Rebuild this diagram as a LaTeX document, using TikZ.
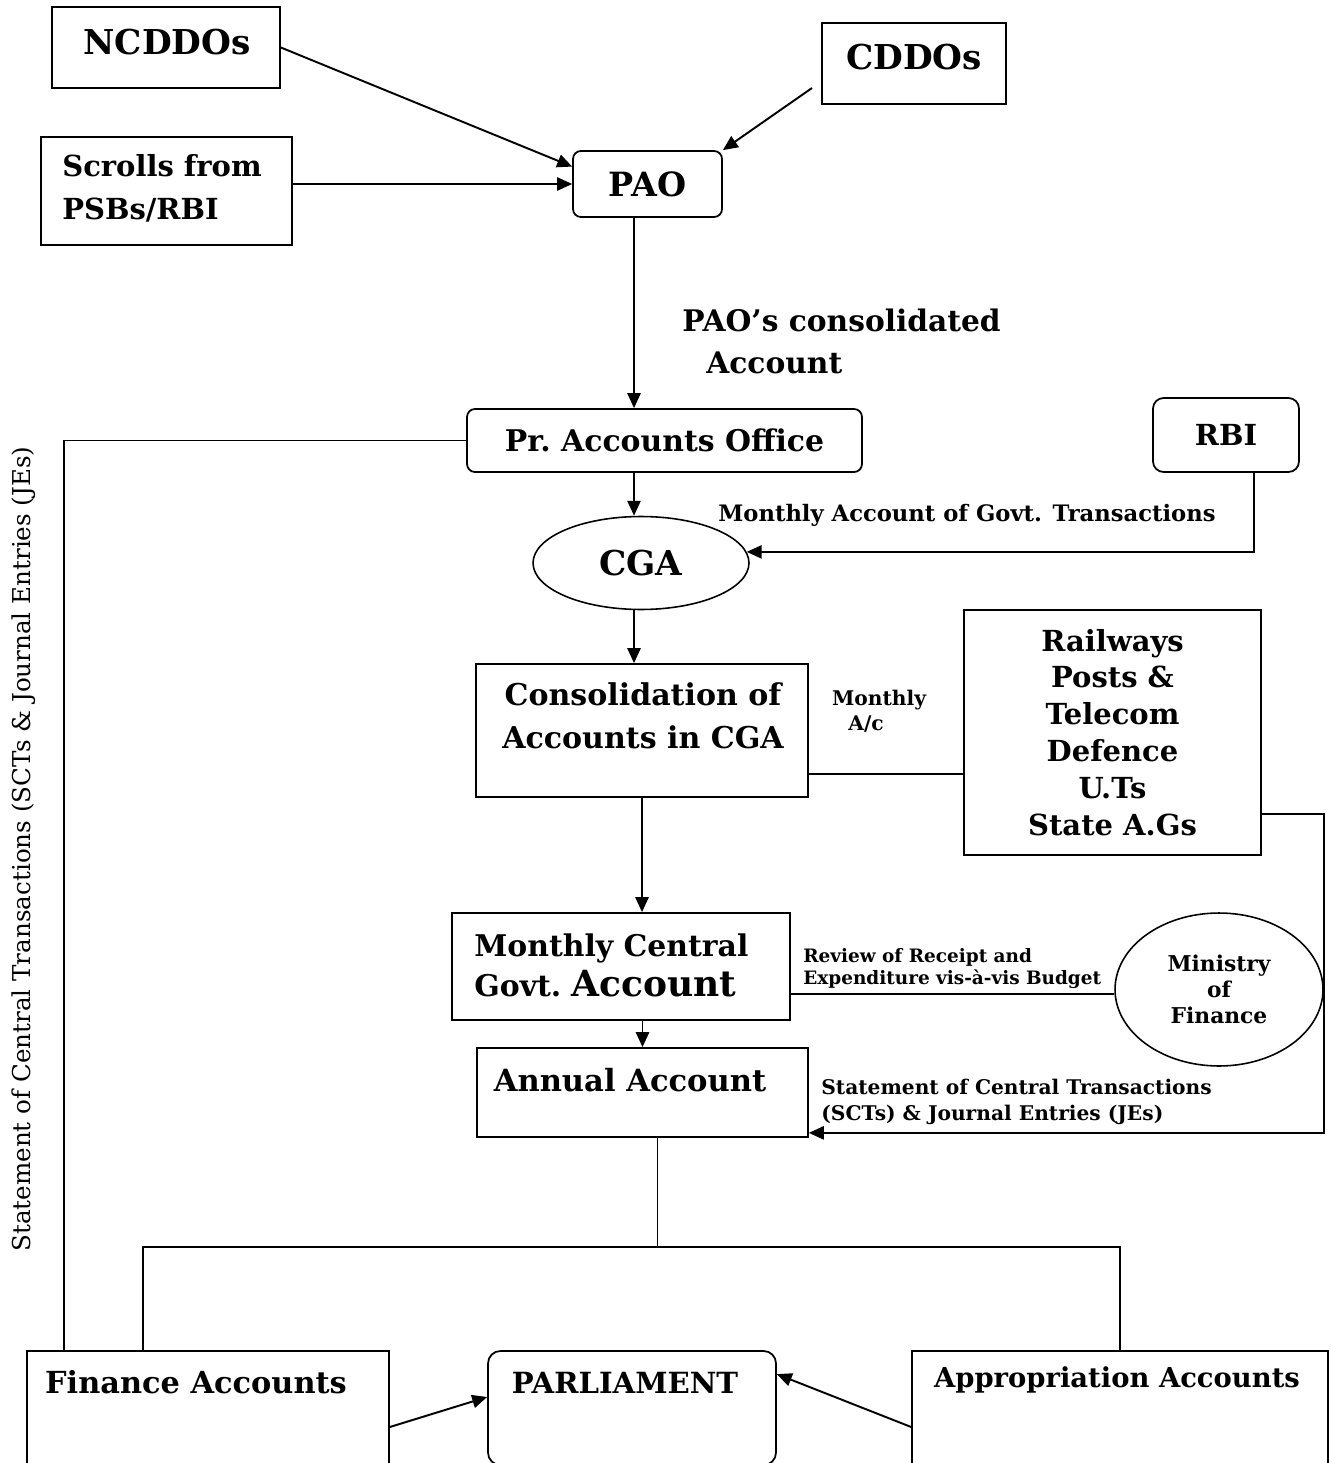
\documentclass[tikz,border=0pt]{standalone}
\usepackage{fontspec}
\setmainfont{DejaVu Serif}
\usetikzlibrary{arrows.meta,calc,shapes.geometric}

\tikzset{
  box/.style={draw, line width=1pt, inner sep=0pt},
  rbox/.style={box, rounded corners=4.5pt},
  oval/.style={ellipse, draw, line width=0.9pt, inner sep=0pt},
  bigtext/.style={inner sep=0pt, font=\bfseries\fontsize{19.5}{23}\selectfont},
  midtext/.style={inner sep=0pt, font=\bfseries\fontsize{16.5}{24.5}\selectfont},
  smalltext/.style={inner sep=0pt, font=\bfseries\fontsize{11.5}{14.8}\selectfont},
  arrowline/.style={line width=1.1pt},
  thinline/.style={line width=0.8pt},
}

\begin{document}
\begin{tikzpicture}[x=0.02cm, y=-0.02cm, >={Triangle[length=8.5pt,width=7.5pt]}]
\useasboundingbox (0,0) rectangle (1330,1463);
\clip (0,0) rectangle (1330,1463);

% sources
\node[box, minimum width=4.56cm, minimum height=1.62cm] (nc) at (166,47.5) {};
\node[bigtext] (nct) at (167,42) {NCDDOs};
\node[box, minimum width=3.68cm, minimum height=1.62cm] (cd) at (914,63.5) {};
\node[bigtext] (cdt) at (914,57) {CDDOs};
\node[box, minimum width=5.02cm, minimum height=2.16cm] (scr) at (166.5,191) {};
\node[midtext, anchor=west, align=left] (scrt) at (62,188) {Scrolls from\\PSBs/RBI};
\node[rbox, minimum width=2.98cm, minimum height=1.32cm, font=\bfseries\fontsize{19}{23}\selectfont] (pao) at (647.5,184) {PAO};

% accounts offices
\node[rbox, minimum width=7.9cm, minimum height=1.26cm, font=\bfseries\fontsize{17}{20}\selectfont] (pr) at (664.5,440.5) {Pr.\ Accounts Office};
\node[rbox, rounded corners=6pt, minimum width=2.92cm, minimum height=1.48cm, font=\bfseries\fontsize{16.5}{20}\selectfont] (rbi) at (1226,435) {RBI};
\node[oval, minimum width=4.32cm, minimum height=1.86cm, font=\bfseries\fontsize{19.5}{23}\selectfont] (cga) at (641,563) {CGA};

% consolidation
\node[box, minimum width=6.64cm, minimum height=2.66cm] (con) at (642,730.5) {};
\node[midtext, align=center, font=\bfseries\fontsize{17.1}{24.5}\selectfont] (cont) at (643,716) {Consolidation of\\Accounts in CGA};
\node[box, minimum width=5.94cm, minimum height=4.9cm, align=center, font=\bfseries\fontsize{16.5}{21}\selectfont] (rw) at (1112.5,732.5)
  {Railways\\Posts \&\\Telecom\\Defence\\U.Ts\\State A.Gs};
\node[box, minimum width=6.76cm, minimum height=2.14cm] (mcg) at (621,966.5) {};
\node[anchor=west, align=left, inner sep=0pt, font=\bfseries\fontsize{17}{22.8}\selectfont] (mcgt) at (474,965)
  {Monthly Central\\Govt.\ {\fontsize{20.5}{22.8}\selectfont Account}};
\node[oval, minimum width=4.16cm, minimum height=3.06cm, align=center, font=\bfseries\fontsize{12.4}{15}\selectfont] (mof) at (1219,989.5)
  {Ministry\\of\\Finance};
\node[box, minimum width=6.62cm, minimum height=1.78cm] (ann) at (642.5,1092.5) {};
\node[bigtext, font=\bfseries\fontsize{17.4}{20}\selectfont] (annt) at (630,1080) {Annual Account};

% final accounts
\node[box, minimum width=7.24cm, minimum height=2.8cm] (fin) at (208,1421) {};
\node[bigtext, font=\bfseries\fontsize{17.3}{20}\selectfont] (fint) at (196,1382) {Finance Accounts};
\node[rbox, rounded corners=7pt, minimum width=5.76cm, minimum height=2.28cm] (par) at (632,1408) {};
\node[bigtext, font=\bfseries\fontsize{16.6}{20}\selectfont] (part) at (625,1383) {PARLIAMENT};
\node[box, minimum width=8.32cm, minimum height=2.8cm] (app) at (1120,1421) {};
\node[bigtext, font=\bfseries\fontsize{15.6}{20}\selectfont] (appt) at (1117,1380) {Appropriation Accounts};

% labels
\node[midtext, anchor=west, font=\bfseries\fontsize{16.9}{20}\selectfont] (lpao1) at (682,320) {PAO’s consolidated};
\node[midtext, anchor=west, font=\bfseries\fontsize{16.9}{20}\selectfont] (lpao2) at (706,363) {Account};
\node[smalltext, anchor=west, font=\bfseries\fontsize{12.9}{15}\selectfont] (lrbi) at (718,515) {Monthly Account of Govt. Transactions};
\node[smalltext] (lmon1) at (879,700) {Monthly};
\node[smalltext] (lmon2) at (866,724) {A/c};
\node[smalltext, anchor=west, align=left, font=\bfseries\fontsize{10.5}{13}\selectfont] (lrev) at (803,968.5)
  {Review of Receipt and\\Expenditure vis-à-vis Budget};
\node[smalltext, anchor=west, align=left] (lsct) at (821,1102)
  {Statement of Central Transactions\\(SCTs) \& Journal Entries (JEs)};
\node[rotate=90, inner sep=0pt, font=\fontsize{14}{16}\selectfont] (lside) at (24,849)
  {Statement of Central Transactions (SCTs \& Journal Entries (JEs)};

% into PAO
\draw[->, arrowline] (nc.east) -- (pao.167);
\draw[->, arrowline] (scr.east |- pao.west) -- (pao.west);
\coordinate (cdin) at (812,88);
\draw[->, arrowline] (cdin) -- (pao.north east);

% main column
\coordinate (col) at (634,0);
\draw[->, arrowline] (pao.south -| col) -- (pr.north -| col);
\draw[->, arrowline] (pr.south -| col) -- (cga.north -| col);
\draw[->, arrowline] (cga.south -| col) -- (con.north -| col);
\draw[->, arrowline] (con.south) -- (con.south |- mcg.north);
\draw[->, arrowline] (mcg.south -| ann.north) -- (ann.north);

% side flows
\draw[->, arrowline] ($(rbi.south)+(28,0)$) |- (cga.6);
\draw[thinline] ($(con.south east)+(0,-24)$) coordinate (ca) -- (ca -| rw.west);
\draw[->, arrowline] ($(rw.south east)+(0,-42)$) -- ++(62,0) |- ($(ann.south east)+(0,-5)$);
\draw[thinline] ($(mcg.south east)+(0,-27)$) coordinate (mr) -- (mr -| mof.west);

% split to final accounts
\draw[thinline] ($(ann.south)+(15,0)$) -- ++(0,109) coordinate (br);
\draw[thinline] ($(fin.north)+(-65,0)$) |- (br) -| (app.north);
\draw[thinline] ($(fin.north west)+(38,0)$) |- (pr.west);
\draw[->, arrowline] ($(fin.east)+(0,6)$) -- ($(par.west)+(0,-11)$);
\draw[->, arrowline] ($(app.west)+(0,6)$) -- ($(par.north east)+(0,24)$);
\end{tikzpicture}
\end{document}
